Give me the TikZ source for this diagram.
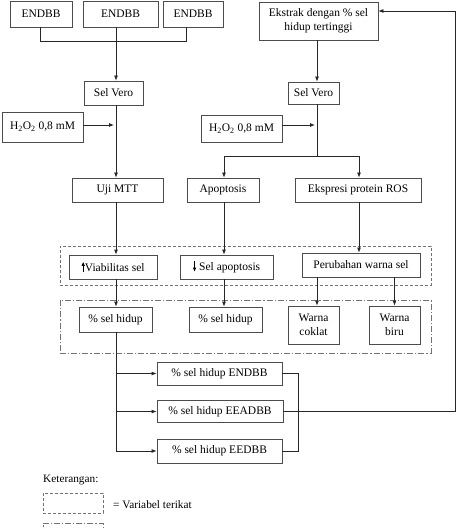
\documentclass[tikz,border=0pt]{standalone}
\usepackage{fontspec}
\setmainfont{Liberation Serif}
\usetikzlibrary{arrows.meta,calc}
\begin{document}
\begin{tikzpicture}[x=1pt,y=-1pt,
  box/.style={draw=black!70, line width=0.8pt, inner sep=0pt, align=center,
    font=\fontsize{11.5}{13.5}\selectfont},
  conn/.style={draw=black!85, line width=0.8pt},
  arr/.style={conn, -{Latex[length=5pt,width=4pt]}},
  dgroup/.style={draw=black!55, line width=0.8pt, dash pattern=on 3pt off 2pt},
  dgroupb/.style={draw=black!55, line width=0.8pt, dash pattern=on 6pt off 2pt on 1.2pt off 2pt},
  txt/.style={inner sep=0pt, font=\fontsize{11.3}{13.5}\selectfont}
]
\newcommand{\upar}{\tikz[baseline=0pt,x=1pt,y=1pt]\draw[line width=0.8pt,-{Latex[length=4pt,width=3.5pt]}] (0,-1)--(0,9.5);}
\newcommand{\dnar}{\tikz[baseline=0pt,x=1pt,y=1pt]\draw[line width=0.8pt,-{Latex[length=4pt,width=3.5pt]}] (0,9.5)--(0,-1);}
\useasboundingbox (0,0) rectangle (458,529);

% groups
\node[dgroup, minimum width=371pt, minimum height=39pt] (g1) at (245.5,265.5) {};
\node[dgroupb, minimum width=371pt, minimum height=53pt] (g2) at (245.5,326.5) {};

% top row
\node[box, minimum width=62pt, minimum height=26pt] (e1) at (41,14) {ENDBB};
\node[box, minimum width=75pt, minimum height=26pt] (e2) at (120.5,14) {ENDBB};
\node[box, minimum width=60pt, minimum height=26pt] (e3) at (193,14) {ENDBB};
\node[box, minimum width=119pt, minimum height=38pt] (ek) at (318.5,21) {Ekstrak dengan \% sel\\hidup tertinggi};

\node[box, minimum width=59pt, minimum height=24pt] (sv1) at (113.5,93) {Sel Vero};
\node[box, minimum width=51pt, minimum height=22pt] (sv2) at (313.5,93) {Sel Vero};

\node[box, minimum width=81pt, minimum height=30pt] (h1) at (42.5,127) {H\textsubscript{2}O\textsubscript{2} 0,8 mM};
\node[box, minimum width=81pt, minimum height=27pt] (h2) at (241.5,128.5) {H\textsubscript{2}O\textsubscript{2} 0,8 mM};

\node[box, minimum width=91pt, minimum height=24pt] (uji) at (117.5,190) {Uji MTT};
\node[box, minimum width=72pt, minimum height=24pt] (apo) at (223,190) {Apoptosis};
\node[box, minimum width=126pt, minimum height=24pt] (eks) at (358,190) {Ekspresi protein ROS};

\node[box, minimum width=88pt, minimum height=24pt] (via) at (113,267) {\upar Viabilitas sel};
\node[box, minimum width=93pt, minimum height=24pt] (sap) at (226.5,267) {\dnar\ Sel apoptosis};
\node[box, minimum width=118pt, minimum height=24pt] (per) at (361,265) {Perubahan warna sel};

\node[box, minimum width=73pt, minimum height=25pt] (sh1) at (115.5,319.5) {\% sel hidup};
\node[box, minimum width=73pt, minimum height=25pt] (sh2) at (225.5,319.5) {\% sel hidup};
\node[box, minimum width=51pt, minimum height=38pt] (wc) at (313.5,325) {Warna\\coklat};
\node[box, minimum width=51pt, minimum height=38pt] (wb) at (394.5,325) {Warna\\biru};

\node[box, minimum width=125pt, minimum height=23pt] (r1) at (219.5,373.5) {\% sel hidup ENDBB};
\node[box, minimum width=126pt, minimum height=22pt] (r2) at (220,411.5) {\% sel hidup EEADBB};
\node[box, minimum width=125pt, minimum height=24pt] (r3) at (219.5,451) {\% sel hidup EEDBB};

% top connectors
\coordinate (j1) at (116,41);
\draw[conn] ([xshift=-1pt]e1.south) |- (j1);
\draw[conn] ([xshift=-7pt]e3.south) |- (j1);
\draw[conn] ([xshift=-4.5pt]e2.south) -- (j1);
\draw[arr] (j1) -- (j1 |- sv1.north);
\draw[arr] (j1 |- sv1.south) -- (j1 |- uji.north);
\draw[arr] (h1.east |- 0,125) -- (114,125);

\draw[arr] ([xshift=-1.5pt]ek.south) -- ([xshift=-1.5pt]ek.south |- sv2.north);
\coordinate (j2) at (317,156);
\draw[conn] (j2 |- sv2.south) -- (j2);
\draw[arr] (h2.east |- 0,125) -- (315,125);
\draw[arr] (j2) -| ([xshift=1pt]apo.north);
\draw[arr] (j2) -| ([xshift=1pt]eks.north);

% to row 3
\draw[arr] ([xshift=-1.5pt]uji.south) -- ([xshift=-1.5pt]uji.south |- via.north);
\draw[arr] ([xshift=1pt]apo.south) -- ([xshift=1pt]apo.south |- sap.north);
\draw[arr] ([xshift=1pt]eks.south) -- ([xshift=1pt]eks.south |- per.north);

% to row 4
\draw[arr] ([xshift=3pt]via.south) -- ([xshift=3pt]via.south |- sh1.north);
\draw[arr] ([xshift=-2.5pt]sap.south) -- ([xshift=-2.5pt]sap.south |- sh2.north);
\draw[arr] ([xshift=3.5pt]wc.north |- per.south) -- ([xshift=3.5pt]wc.north);
\draw[arr] (wb.north |- per.south) -- (wb.north);

% bottom
\coordinate (j3) at (116,451);
\draw[conn] ([xshift=0.5pt]sh1.south) -- (j3);
\draw[arr] (j3) -- (r3.west);
\draw[arr] (j3 |- r1.west) -- (r1.west);
\draw[arr] (j3 |- r2.west) -- (r2.west);
\coordinate (b1) at (298,373.5);
\draw[conn] (r1.east) -- (b1) -- (b1 |- r3.east) -- (r3.east);
\coordinate (rc) at (455,411.5);
\draw[arr] (r2.east) -- (rc) |- ([yshift=10pt]ek.east);

% legend
\node[txt, anchor=base west] (ket) at (43,482) {Keterangan:};
\node[dgroup, minimum width=60pt, minimum height=20pt] (lg1) at (73,503) {};
\node[txt, anchor=west] (lt1) at (113,505) {= Variabel terikat};
\node[dgroupb, minimum width=60pt, minimum height=20pt] (lg2) at (73,533) {};
\end{tikzpicture}
\end{document}
